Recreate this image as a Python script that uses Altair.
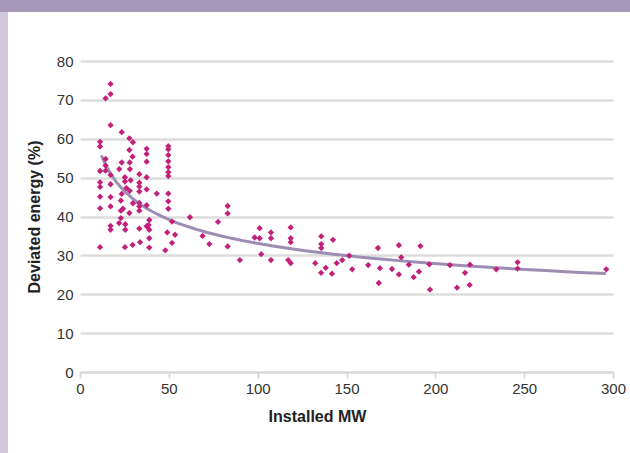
import altair as alt
import pandas as pd

# Installed MW (x) and deviated energy % (y)
mw = [
    11.3, 11.3, 11.3, 11.3, 11.3, 11.3, 11.3, 11.3,
    14.4, 14.4, 14.4, 14.4,
    17.2, 17.2, 17.2, 17.2, 17.2, 17.2, 17.2, 17.2, 17.2,
    23.5, 23.5, 23.5, 22.1, 23.0, 23.0, 23.0, 24.2, 22.0, 25.5, 25.5,
    25.3, 25.3, 25.3, 26.1,
    27.8, 27.8, 27.8, 29.8, 29.8, 29.6, 29.6, 28.0, 28.0, 28.1, 28.5,
    33.4, 33.4, 33.4, 33.4, 33.4, 33.4, 33.4, 33.4, 33.8,
    37.5, 37.5, 37.5, 37.5, 37.5, 37.5, 37.5,
    39.0, 39.0, 39.0, 39.0, 38.6, 43.2,
    49.7, 49.7, 49.7, 49.7, 49.7, 49.7, 49.7, 49.7, 49.7, 49.7,
    51.8, 51.8, 49.1, 53.5, 48.0, 61.9,
    69.0, 72.8, 77.7, 83.1, 83.1, 83.1, 90.0, 98.3, 101.1, 101.1,
    102.0, 107.5, 107.5, 107.5, 118.6, 118.6, 118.6, 117.2, 118.6,
    135.8, 135.8, 135.8, 142.4, 132.4, 135.7, 138.3, 141.8, 144.5,
    147.6, 151.5, 153.2, 162.2, 167.7, 168.8, 168.2, 175.6, 179.5,
    180.8, 179.5, 185.1, 187.8, 191.6, 190.8, 197.0, 196.6, 208.2,
    212.2, 216.7, 219.3, 219.5, 234.3, 246.3, 246.3, 296.2,
]
deviated = [
    59.2, 58.0, 51.7, 48.8, 47.6, 45.1, 42.1, 32.1,
    70.4, 54.8, 53.1, 51.8,
    74.1, 71.5, 63.5, 50.7, 48.3, 45.0, 42.6, 37.6, 36.6,
    61.7, 53.9, 45.8, 52.2, 44.1, 41.5, 39.6, 42.0, 38.3, 38.0, 36.6,
    50.1, 49.0, 32.1, 47.3,
    60.1, 57.1, 40.9, 59.1, 43.4, 55.4, 32.7, 53.9, 46.6, 52.2, 49.3,
    50.9, 48.7, 47.7, 46.4, 43.5, 42.6, 41.5, 36.9, 33.4,
    57.4, 56.1, 54.1, 50.1, 47.0, 42.9, 37.5,
    39.1, 36.6, 34.4, 32.0, 37.8, 45.9,
    58.1, 57.3, 55.8, 54.2, 52.7, 51.4, 50.4, 45.9, 43.9, 42.0,
    38.7, 33.2, 35.9, 35.3, 31.3, 39.8,
    35.0, 32.9, 38.6, 42.7, 40.8, 32.3, 28.8, 34.6, 37.0, 34.4,
    30.3, 35.9, 34.4, 28.8, 37.2, 34.4, 33.4, 28.8, 28.0,
    34.9, 32.9, 31.9, 34.0, 28.0, 25.5, 26.8, 25.3, 28.0,
    28.8, 29.9, 26.4, 27.5, 31.9, 26.7, 22.9, 26.5, 32.6,
    29.5, 25.1, 27.6, 24.4, 32.4, 25.8, 21.2, 27.7, 27.5,
    21.7, 25.5, 22.4, 27.6, 26.4, 28.2, 26.6, 26.4,
]

x_ticks = [0, 50, 100, 150, 200, 250, 300]
y_ticks = [0, 10, 20, 30, 40, 50, 60, 70, 80]

df = pd.DataFrame({"mw": mw, "dev": deviated})

W, H = 533, 311
title_font = "Liberation Sans Narrow, Liberation Sans, sans-serif"

xs = alt.X("mw:Q", scale=alt.Scale(domain=[0, 300], nice=False),
           axis=alt.Axis(values=x_ticks, title="Installed MW", grid=False,
                         domainColor="#DADADA", domainWidth=2,
                         tickColor="#DADADA", tickWidth=2, tickSize=6,
                         labelFlush=False, labelPadding=3, labelFontSize=15,
                         labelColor="#333333", labelFont="Liberation Sans",
                         titleFont=title_font, titleFontSize=16,
                         titleFontWeight="bold", titleColor="#222222",
                         titleX=237, titlePadding=12))
ys = alt.Y("dev:Q", scale=alt.Scale(domain=[0, 80], nice=False),
           axis=alt.Axis(values=y_ticks, title="Deviated energy (%)",
                         grid=True, gridColor="#DDDDDD", gridWidth=2.5,
                         domain=False, ticks=False, labelPadding=7,
                         labelFontSize=15, labelColor="#333333",
                         labelFont="Liberation Sans",
                         titleFont=title_font, titleFontSize=16,
                         titleFontWeight="bold", titleColor="#222222",
                         titlePadding=14))

base = alt.Chart(df)

trend = base.transform_regression(
    "mw", "dev", method="pow", extent=[12, 296]
).mark_line(color="#9D8DB4", strokeWidth=3).encode(x=xs, y=ys)

points = base.mark_point(shape="diamond", filled=True, size=40,
                         color="#C2217B", opacity=1).encode(x=xs, y=ys)

deco = pd.DataFrame({"k": [0]})
top_bar = alt.Chart(deco).mark_rect(color="#A597B8", clip=False).encode(
    x=alt.value(-80), x2=alt.value(W + 17), y=alt.value(-61), y2=alt.value(-49))
left_bar = alt.Chart(deco).mark_rect(color="#D0C8DD", clip=False).encode(
    x=alt.value(-80), x2=alt.value(-72), y=alt.value(-49), y2=alt.value(H + 81))

chart = alt.layer(top_bar, left_bar, trend, points).properties(
    width=W, height=H,
    autosize=alt.AutoSizeParams(type="none"),
    padding={"left": 80, "top": 61, "right": 17, "bottom": 81},
    background="white",
).configure_view(stroke=None)

chart.save("out.html", embed_options={"renderer": "svg", "actions": False})
